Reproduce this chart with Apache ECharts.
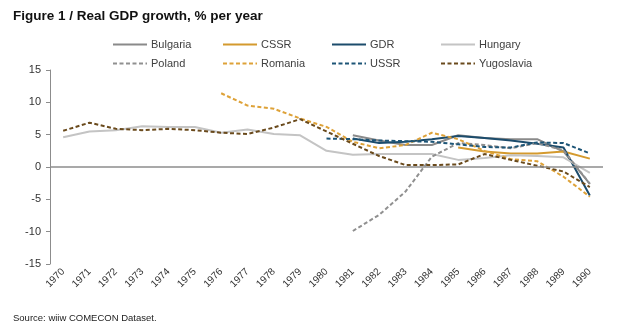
<!DOCTYPE html>
<html>
<head>
<meta charset="utf-8">
<script src="https://cdn.jsdelivr.net/npm/echarts@6/dist/echarts.min.js"></script>
<style>
  html, body { margin: 0; padding: 0; background: #fff; }
  #chart { width: 620px; height: 330px; }
</style>
</head>
<body>
<div id="chart"></div>
<script>
// Real GDP growth, % per year, 1970-1990
const years = ['1970','1971','1972','1973','1974','1975','1976','1977','1978','1979',
               '1980','1981','1982','1983','1984','1985','1986','1987','1988','1989','1990'];
const yTicks = { min: -15, max: 15, step: 5 };

const bulgaria   = [null,null,null,null,null,null,null,null,null,null,null, 4.9, 4.1, 3.4, 3.4, 4.9, 4.5, 4.3, 4.3, 2.4, -2.6];
const cssr       = [null,null,null,null,null,null,null,null,null,null,null,null,null,null,null, 3.0, 2.4, 2.1, 2.1, 2.4, 1.3];
const gdr        = [null,null,null,null,null,null,null,null,null,null,null, 4.4, 3.7, 3.9, 4.3, 4.8, 4.5, 4.1, 3.6, 3.0, -4.4];
const hungary    = [4.6, 5.5, 5.7, 6.3, 6.2, 6.2, 5.3, 5.8, 5.1, 4.9, 2.5, 1.9, 2.0, 2.0, 2.0, 1.1, 1.4, 1.8, 1.7, 1.5, -0.9];
const poland     = [null,null,null,null,null,null,null,null,null,null,null, -9.9, -7.4, -3.8, 1.6, 3.7, 3.4, 2.9, 3.7, 2.6, -2.6];
const romania    = [null,null,null,null,null,null, 11.4, 9.5, 9.0, 7.5, 6.2, 3.9, 2.9, 3.4, 5.3, 4.3, 2.5, 1.2, 0.9, -1.5, -4.6];
const ussr       = [null,null,null,null,null,null,null,null,null,null, 4.4, 4.3, 4.1, 4.0, 3.9, 3.5, 3.1, 3.0, 3.8, 3.7, 2.1];
const yugoslavia = [5.6, 6.85, 5.9, 5.7, 5.9, 5.7, 5.3, 5.1, 6.1, 7.4, 5.5, 3.6, 1.7, 0.3, 0.3, 0.4, 2.0, 1.1, 0.2, -0.7, -3.1];

// legend columns: solid series on the first row, dashed on the second
const legendColumns = [
  ['Bulgaria', 'Poland'],
  ['CSSR', 'Romania'],
  ['GDR', 'USSR'],
  ['Hungary', 'Yugoslavia']
];

const font = 'Liberation Sans, Arial, sans-serif';

function line(name, data, color, dashed) {
  return {
    name: name,
    type: 'line',
    data: data,
    symbol: 'none',
    showSymbol: false,
    connectNulls: false,
    lineStyle: { color: color, width: 2, type: dashed ? [4, 2.5] : 'solid' },
    itemStyle: { color: color },
    emphasis: { disabled: true },
    animation: false
  };
}

const series = [
  line('Bulgaria', bulgaria, '#8a8a8a', false),
  line('CSSR', cssr, '#d49a2e', false),
  line('GDR', gdr, '#1c4c6c', false),
  line('Hungary', hungary, '#c4c4c4', false),
  line('Poland', poland, '#909090', true),
  line('Romania', romania, '#dea238', true),
  line('USSR', ussr, '#1d5577', true),
  line('Yugoslavia', yugoslavia, '#6a4a1c', true)
];

// zero reference line across the plot
series[0].markLine = {
  silent: true,
  symbol: 'none',
  label: { show: false },
  lineStyle: { color: '#8c8c8c', width: 1.5, type: 'solid' },
  data: [{ yAxis: 0 }],
  animation: false
};

const legendLefts = [107, 217, 326, 435];
const legends = legendColumns.map((names, i) => ({
  orient: 'vertical',
  top: 34,
  left: legendLefts[i],
  itemWidth: 34,
  itemHeight: 10,
  itemGap: 8,
  data: names,
  selectedMode: false,
  itemStyle: { opacity: 0 },
  textStyle: { fontFamily: font, fontSize: 11, color: '#404040', padding: [0, 0, 0, -1] }
}));

const chart = echarts.init(document.getElementById('chart'), null, { renderer: 'canvas' });
chart.setOption({
  animation: false,
  backgroundColor: '#fff',
  title: {
    text: 'Figure 1 / Real GDP growth, % per year',
    left: 8, top: 4,
    textStyle: { fontFamily: font, fontSize: 13.5, fontWeight: 'bold', color: '#111' }
  },
  graphic: [{
    type: 'text',
    left: 13, top: 313,
    style: { text: 'Source: wiiw COMECON Dataset.', font: '9.5px ' + font, fill: '#222' }
  }],
  legend: legends,
  grid: { left: 50, right: 17, top: 70, bottom: 66, containLabel: false },
  xAxis: {
    type: 'category',
    data: years,
    boundaryGap: true,
    axisLine: { show: false, onZero: false },
    axisTick: { show: false },
    axisLabel: { rotate: 45, margin: 6, fontFamily: font, fontSize: 10, color: '#333', interval: 0 }
  },
  yAxis: {
    type: 'value',
    min: yTicks.min, max: yTicks.max, interval: yTicks.step,
    axisLine: { show: true, lineStyle: { color: '#8c8c8c', width: 1 } },
    axisTick: { show: true, length: 4, lineStyle: { color: '#8c8c8c' } },
    splitLine: { show: false },
    axisLabel: { margin: 9, fontFamily: font, fontSize: 11, color: '#333' }
  },
  series: series
});
</script>
</body>
</html>
